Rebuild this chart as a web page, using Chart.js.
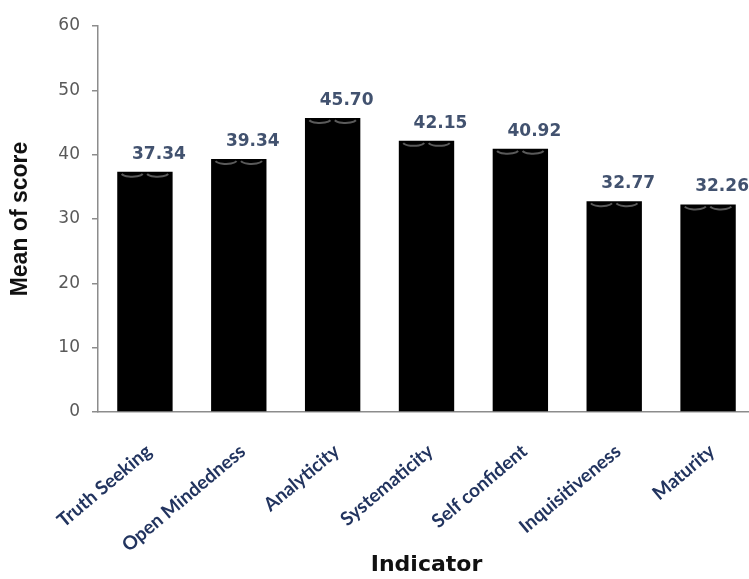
<!DOCTYPE html>
<html>
<head>
<meta charset="utf-8">
<script src="https://cdn.jsdelivr.net/npm/chart.js@4/dist/chart.umd.min.js"></script>
<style>
  html, body { margin: 0; padding: 0; background: #fff; overflow: hidden; }
  #wrap { width: 780px; height: 579px; position: relative; }
</style>
</head>
<body>
<div id="wrap"><canvas id="c"></canvas></div>
<script>
// Indicator names along the x axis
const categories = ['Truth Seeking', 'Open Mindedness', 'Analyticity', 'Systematicity', 'Self confident', 'Inquisitiveness', 'Maturity'];
// Mean score per indicator
const meanScores = [37.34, 39.34, 45.70, 42.15, 40.92, 32.77, 32.26];
// Y axis range and step
const yMin = 0;
const yMax = 60;
const yStep = 10;

// Value labels above each bar, plus the soft highlight at each bar's top
const barDecor = {
  id: 'barDecor',
  afterDatasetsDraw(chart) {
    const ctx = chart.ctx;
    const meta = chart.getDatasetMeta(0);
    meta.data.forEach((bar, i) => {
      const w = bar.width;
      const left = bar.x - w / 2;
      // two faint arcs near the top edge
      ctx.save();
      ctx.strokeStyle = 'rgba(150,150,150,0.6)';
      ctx.lineWidth = 2;
      [left + w * 0.27, left + w * 0.73].forEach(cx => {
        ctx.beginPath();
        ctx.ellipse(cx, bar.y + 1, w * 0.2, 4, 0, 0.1 * Math.PI, 0.9 * Math.PI);
        ctx.stroke();
      });
      ctx.restore();

      ctx.save();
      ctx.fillStyle = '#42526f';
      ctx.font = 'bold 17px "DejaVu Sans"';
      ctx.textAlign = 'center';
      ctx.textBaseline = 'alphabetic';
      ctx.fillText(meanScores[i].toFixed(2), bar.x + 14, bar.y - 13);
      ctx.restore();
    });
  }
};

new Chart(document.getElementById('c'), {
  type: 'bar',
  data: {
    labels: categories,
    datasets: [{
      data: meanScores,
      backgroundColor: '#000000',
      borderWidth: 0,
      categoryPercentage: 1.0,
      barPercentage: 0.59
    }]
  },
  options: {
    responsive: true,
    maintainAspectRatio: false,
    animation: false,
    layout: { padding: { top: 26, right: 25, bottom: 0, left: 7 } },
    plugins: {
      legend: { display: false },
      tooltip: { enabled: false }
    },
    scales: {
      x: {
        grid: { display: false },
        border: { display: true, color: '#8c8c8c', width: 1.5 },
        ticks: {
          autoSkip: false,
          minRotation: 40,
          maxRotation: 40,
          padding: 20,
          labelOffset: 4,
          color: '#22345f',
          font: { family: 'Lato', size: 19, weight: 'bold' }
        },
        title: {
          display: true,
          text: 'Indicator',
          color: '#111111',
          font: { family: 'DejaVu Sans', size: 22, weight: 'bold' },
          padding: { top: 0, bottom: 1 }
        },
        afterFit(scale) { scale.height = 167; }
      },
      y: {
        min: yMin,
        max: yMax,
        grid: { drawOnChartArea: false, tickLength: 6, color: '#8c8c8c', lineWidth: 1.5 },
        border: { display: true, color: '#8c8c8c', width: 1.5 },
        ticks: {
          stepSize: yStep,
          padding: 12,
          color: '#595959',
          font: { family: 'DejaVu Sans', size: 17 }
        },
        title: {
          display: true,
          text: 'Mean of score',
          color: '#111111',
          font: { family: 'Liberation Sans', size: 23, weight: 'bold' },
          padding: { top: 0, bottom: 0 }
        },
        afterFit(scale) { scale.width = 91; }
      }
    }
  },
  plugins: [barDecor]
});
</script>
</body>
</html>
